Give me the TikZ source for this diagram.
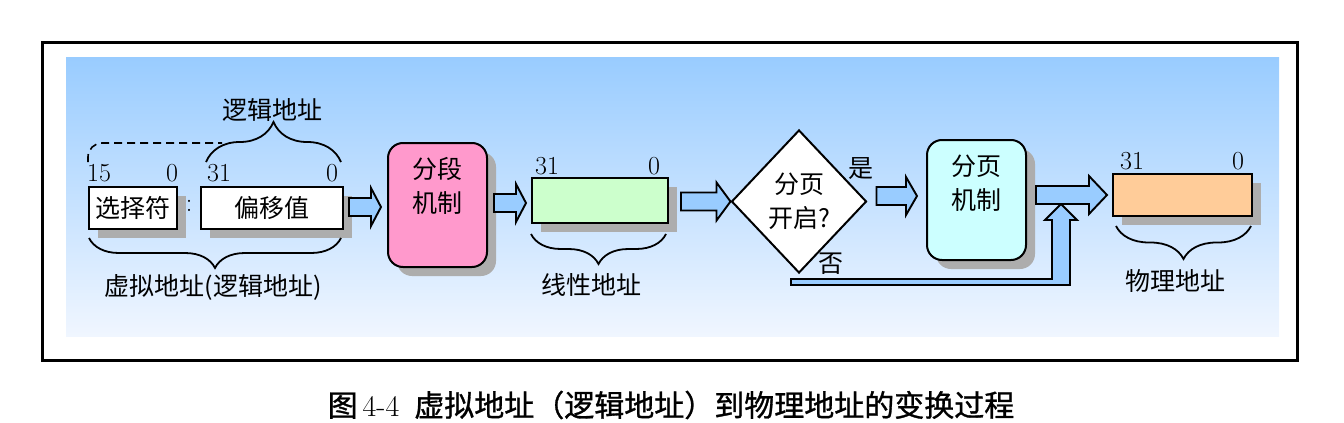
\documentclass[tikz,border=0pt]{standalone}
\usepackage{fontspec}
\newfontfamily\cjk{Noto Sans CJK SC}
\newfontfamily\cjkcap[FakeBold=1]{Noto Sans CJK SC}
\usepackage{xcolor}
\usetikzlibrary{shadows,shapes.geometric,decorations.pathreplacing,calc}

\definecolor{bgtop}{HTML}{99CCFF}
\definecolor{bgbot}{HTML}{F0F6FF}
\definecolor{arrowblue}{HTML}{99CCFF}
\definecolor{segpink}{HTML}{FF99CC}
\definecolor{lingreen}{HTML}{CCFFCC}
\definecolor{pagcyan}{HTML}{CCFFFF}
\definecolor{phyorange}{HTML}{FFCC99}

\tikzset{
  zh/.style={font=\cjk\fontsize{25}{34}\selectfont, inner sep=0pt},
  num/.style={font=\fontsize{26}{28}\selectfont, inner sep=0pt},
  shadowed/.style={drop shadow={shadow xshift=9pt, shadow yshift=-9pt, fill=black!32, opacity=1}},
  regbox/.style={draw, line width=2pt, shadowed, inner sep=0pt},
  mechbox/.style={regbox, rounded corners=15pt, minimum width=99pt},
  blk/.style={draw, line width=1.9pt, fill=arrowblue, line join=miter},
  brc/.style={decorate, decoration={brace, amplitude=#1}, line width=1.8pt},
}

% block arrow: [head length]{start}{tip}
\newcommand\blockarrow[3][12pt]{%
  \draw[blk] let \p1=(#2), \p2=(#3) in
    (\x1,\y2+9pt) -- (\x2-#1,\y2+9pt) -- (\x2-#1,\y2+19pt) -- (\x2,\y2)
    -- (\x2-#1,\y2-19pt) -- (\x2-#1,\y2-9pt) -- (\x1,\y2-9pt) -- cycle;}

\begin{document}
\begin{tikzpicture}[x=1pt, y=-1pt]
  \useasboundingbox (0,0) rectangle (1344,423);

  % frame and shaded background
  \draw[line width=3pt] (42,42) rectangle (1297,360);
  \shade[top color=bgtop, bottom color=bgbot] (66,57) rectangle (1279,336);

  % virtual address
  \node[regbox, zh, fill=white, minimum width=88pt, minimum height=42pt] (sel) at (133,208) {选择符};
  \node[regbox, zh, fill=white, minimum width=142pt, minimum height=42pt] (off) at (272,208) {偏移值};
  \node[num] (colon) at (189,206) {:};
  \node[num] (selhi) at (99,173) {15};
  \node[num] (sello) at (172,173) {0};
  \node[num] (offhi) at (219,173) {31};
  \node[num] (offlo) at (332,173) {0};

  \draw[dashed, dash pattern=on 8pt off 5pt, line width=1.6pt, rounded corners=14pt]
    ([yshift=24pt]sel.north west) |- ([xshift=22pt,yshift=43pt]off.north west);
  \draw[brc=40pt] ([xshift=6pt,yshift=24pt]off.north west) -- ([xshift=-3pt,yshift=24pt]off.north east);
  \node[zh] (logic) at (272,110) {逻辑地址};
  \draw[brc=30pt, decoration={mirror}] ([xshift=1pt,yshift=-8pt]sel.south west) -- ([xshift=-3pt,yshift=-8pt]off.south east);
  \node[zh] (virt) at (213,287) {虚拟地址(逻辑地址)};

  % segmentation
  \node[mechbox, fill=segpink, minimum height=124pt] (seg) at (437.5,205) {};
  \node[zh, align=center] (segtxt) at (437.5,186) {分段\\机制};

  % linear address
  \node[regbox, fill=lingreen, minimum width=136pt, minimum height=45pt] (lin) at (600,200.5) {};
  \node[num] (linhi) at (547,166) {31};
  \node[num] (linlo) at (654,166) {0};
  \draw[brc=30pt, decoration={mirror}] ([yshift=-10pt]lin.south west) -- ([xshift=-3pt,yshift=-10pt]lin.south east);
  \node[zh] (lintxt) at (591,285) {线性地址};

  % paging enabled?
  \node[diamond, draw, line width=2pt, fill=white, zh, align=center,
        minimum width=135pt, minimum height=143pt] (dia) at (799,201.5) {分页\\开启?};
  \node[zh] (yes) at (861,169) {是};
  \node[zh] (no) at (831,264) {否};

  % paging
  \node[mechbox, fill=pagcyan, minimum height=120pt] (pag) at (976.5,200) {};
  \node[zh, align=center] (pagtxt) at (976.5,183) {分页\\机制};

  % physical address
  \node[regbox, fill=phyorange, minimum width=139pt, minimum height=42pt] (phy) at (1182.5,195) {};
  \node[num] (phyhi) at (1132,161) {31};
  \node[num] (phylo) at (1238,161) {0};
  \draw[brc=33pt, decoration={mirror}] ([xshift=4pt,yshift=-9pt]phy.south west) -- ([xshift=-2pt,yshift=-9pt]phy.south east);
  \node[zh] (phytxt) at (1175,281) {物理地址};

  % arrows
  \blockarrow[10pt]{[xshift=5pt]off.east}{[xshift=-6pt,yshift=-2pt]seg.west}
  \blockarrow[10pt]{[xshift=6pt]seg.east}{[xshift=-5pt,yshift=-2.5pt]lin.west}
  \blockarrow[14pt]{[xshift=12pt]lin.east}{dia.west}
  \blockarrow[11pt]{[xshift=9pt]dia.east}{[xshift=-9pt,yshift=4pt]pag.west}

  % "no" path
  \coordinate (nofoot) at (791,282);
  \coordinate (nohead) at (1061,204);
  \draw[blk] let \p1=(nofoot), \p2=(nohead) in
    (\x1,\y1+3pt) -- (\x2-9pt,\y1+3pt) -- (\x2-9pt,\y2-16pt) -- (\x2-16pt,\y2-16pt)
    -- (\x2,\y2) -- (\x2+16pt,\y2-16pt) -- (\x2+9pt,\y2-16pt) -- (\x2+9pt,\y1-3pt)
    -- (\x1,\y1-3pt) -- cycle;
  \blockarrow[18pt]{[xshift=9pt]pag.east}{[xshift=-5pt]phy.west}

  % caption
  \node[font=\cjkcap\fontsize{30}{34}\selectfont] (cap) at (671,405) {图\,{\rmfamily 4-4}\enspace 虚拟地址（逻辑地址）到物理地址的变换过程};
\end{tikzpicture}
\end{document}
